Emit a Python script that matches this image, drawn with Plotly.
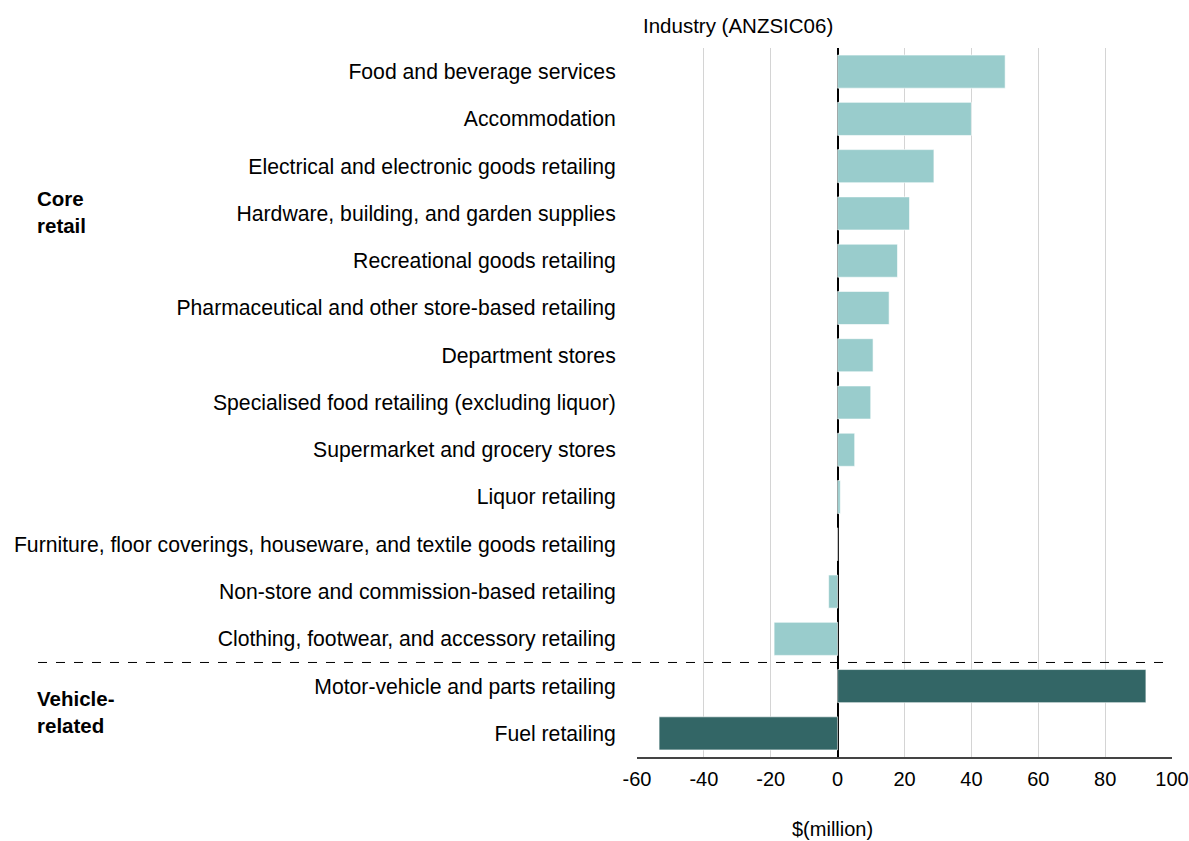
import plotly.graph_objects as go

categories = [
    "Food and beverage services",
    "Accommodation",
    "Electrical and electronic goods retailing",
    "Hardware, building, and garden supplies",
    "Recreational goods retailing",
    "Pharmaceutical and other store-based retailing",
    "Department stores",
    "Specialised food retailing (excluding liquor)",
    "Supermarket and grocery stores",
    "Liquor retailing",
    "Furniture, floor coverings, houseware, and textile goods retailing",
    "Non-store and commission-based retailing",
    "Clothing, footwear, and accessory retailing",
    "Motor-vehicle and parts retailing",
    "Fuel retailing",
]
values = [50.1, 40.0, 28.8, 21.5, 17.9, 15.4, 10.6, 9.9, 5.1, 0.8, 0.0, -2.7, -19.0, 92.2, -53.4]
groups = ["Core"] * 13 + ["Vehicle"] * 2
group_colors = {"Core": "#99CCCC", "Vehicle": "#336666"}
x_ticks = [-60, -40, -20, 0, 20, 40, 60, 80, 100]

W, H = 1189, 841
L, R, T, B = 637, 1172, 48, 757

def px(x):
    return (x - L) / (R - L)

def py(y):
    return (B - y) / (B - T)

FONT = "Liberation Sans, Arial, sans-serif"

fig = go.Figure()
fig.add_trace(go.Bar(
    y=categories,
    x=values,
    orientation="h",
    marker=dict(color=[group_colors[g] for g in groups],
                line=dict(color="rgba(255,255,255,0.6)", width=1)),
    width=0.7,
    showlegend=False,
))

fig.update_layout(
    width=W, height=H,
    margin=dict(l=L, r=W - R, t=T, b=H - B, pad=0, autoexpand=False),
    paper_bgcolor="white", plot_bgcolor="white",
    font=dict(family=FONT, size=20, color="#000000"),
    xaxis=dict(
        range=[-60, 100],
        tickvals=x_ticks,
        ticktext=[str(v) for v in x_ticks],
        showgrid=True, gridcolor="#d4d4d4", gridwidth=1,
        zeroline=True, zerolinecolor="#000000", zerolinewidth=2,
        showline=True, linecolor="#444444", linewidth=2,
        ticks="outside", ticklen=3, tickcolor="rgba(0,0,0,0)",
        tickfont=dict(size=20),
        ticklabeloverflow="allow",
        automargin=False,
        fixedrange=True,
    ),
    yaxis=dict(
        categoryorder="array", categoryarray=categories,
        autorange="reversed",
        showgrid=False, zeroline=False, showline=False,
        ticks="outside", ticklen=16, tickcolor="rgba(0,0,0,0)",
        tickfont=dict(size=21.2),
        automargin=False,
        fixedrange=True,
    ),
)

fig.add_shape(type="line", xref="paper", yref="y",
              x0=px(38), x1=px(1170), y0=12.5, y1=12.5,
              line=dict(color="#000000", width=1, dash="dash"))

fig.add_annotation(text="Industry (ANZSIC06)", xref="paper", yref="paper",
                   x=px(738), y=py(25), showarrow=False, font=dict(size=20.5),
                   xanchor="center", yanchor="middle")
fig.add_annotation(text="$(million)", xref="paper", yref="paper",
                   x=px(832), y=py(829), showarrow=False, font=dict(size=20),
                   xanchor="center", yanchor="middle")
fig.add_annotation(text="<b>Core<br>retail</b>", xref="paper", yref="paper",
                   x=px(35), y=py(212), showarrow=False, font=dict(size=20.5),
                   xanchor="left", yanchor="middle", align="left")
fig.add_annotation(text="<b>Vehicle-<br>related</b>", xref="paper", yref="paper",
                   x=px(35), y=py(712), showarrow=False, font=dict(size=20.5),
                   xanchor="left", yanchor="middle", align="left")

fig.write_html(
    "out.html",
    config={"displayModeBar": False, "staticPlot": True},
    post_script="document.body.style.margin='0';document.body.style.overflow='hidden';",
)
